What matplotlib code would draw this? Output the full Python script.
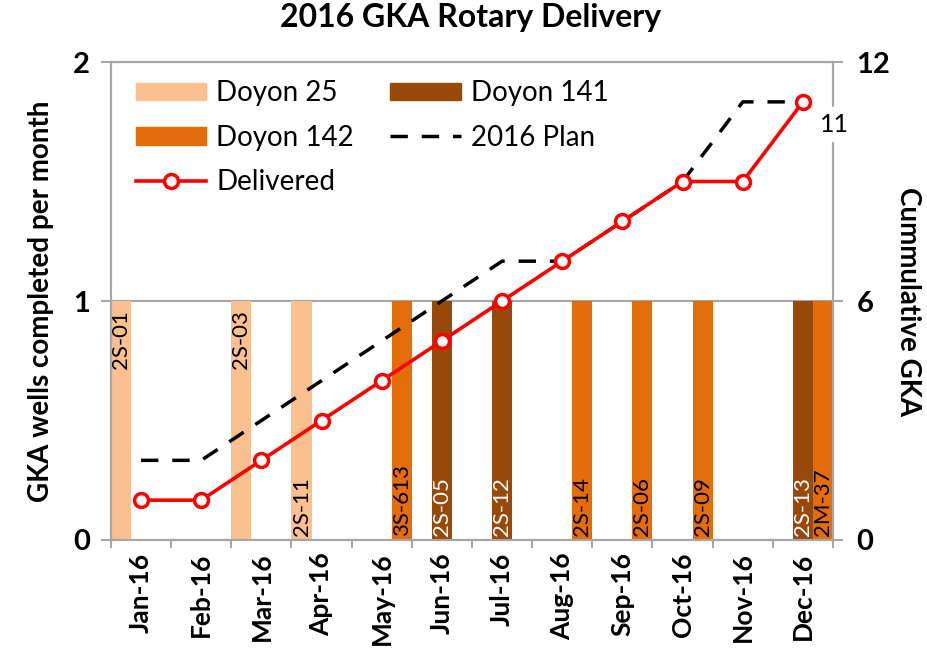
import numpy as np
import matplotlib.pyplot as plt
from matplotlib.lines import Line2D
from matplotlib.patches import Patch

plt.rcParams['font.family'] = ['Lato', 'DejaVu Sans']

months = ["Jan-16", "Feb-16", "Mar-16", "Apr-16", "May-16", "Jun-16",
          "Jul-16", "Aug-16", "Sep-16", "Oct-16", "Nov-16", "Dec-16"]

# wells per month, one list per rig (1 = well completed that month)
doyon25 = [1, 0, 1, 1, 0, 0, 0, 0, 0, 0, 0, 0]
doyon141 = [0, 0, 0, 0, 0, 1, 1, 0, 0, 0, 0, 1]
doyon142 = [0, 0, 0, 0, 1, 0, 0, 1, 1, 1, 0, 1]

wells25 = ["2S-01", "", "2S-03", "2S-11", "", "", "", "", "", "", "", ""]
wells141 = ["", "", "", "", "", "2S-05", "2S-12", "", "", "", "", "2S-13"]
wells142 = ["", "", "", "", "3S-613", "", "", "2S-14", "2S-06", "2S-09", "", "2M-37"]
labels_at_top = ["2S-01", "2S-03"]

delivered = [1, 1, 2, 3, 4, 5, 6, 7, 8, 9, 9, 11]
plan = [2, 2, 3, 4, 5, 6, 7, 7, 8, 9, 11, 11]

c25 = "#FAC090"
c141 = "#984807"
c142 = "#E46C0A"
grigio = "#A6A6A6"

fig = plt.figure(figsize=(9.27, 6.62), dpi=100)
ax = fig.add_axes([0.1197, 0.1843, 0.7789, 0.722])
ax2 = ax.twinx()

x = np.arange(len(months))
w = 1 / 3
series = [(doyon25, wells25, c25, -w, "black"),
          (doyon141, wells141, c141, 0, "white"),
          (doyon142, wells142, c142, w, "black")]

for vals, wells, col, off, tcol in series:
    ax.bar(x + off, vals, width=w, color=col, zorder=2)
    for i in range(len(months)):
        if wells[i] == "":
            continue
        if wells[i] in labels_at_top:
            ax.text(x[i] + off, vals[i] - 0.04, wells[i], rotation=90,
                    ha="center", va="top", fontsize=16, color=tcol, zorder=3)
        else:
            ax.text(x[i] + off, 0.015, wells[i], rotation=90,
                    ha="center", va="bottom", fontsize=16, color=tcol, zorder=3)

ax.set_xlim(-0.5, len(months) - 0.5)
ax.set_ylim(0, 2)
ax.set_yticks([0, 1, 2])
ax.set_xticks(np.arange(-0.5, len(months)), minor=True)
ax.set_xticks(x)
ax.set_xticklabels(months, rotation=90, fontsize=19, fontweight="bold")
ax.tick_params(axis="x", which="major", length=0, pad=9)
ax.tick_params(axis="x", which="minor", length=6, color=grigio, width=1.5)
ax.tick_params(axis="y", length=7, color=grigio, width=1.5, labelsize=21, pad=8)
for t in ax.get_yticklabels():
    t.set_fontweight("bold")
ax.grid(axis="y", color=grigio, linewidth=1.5, zorder=0)
ax.set_axisbelow(True)

ax2.plot(x, plan, color="black", linewidth=2.5, dashes=(5.0, 4.0), zorder=3)
ax2.plot(x, delivered, color="red", linewidth=2.6, marker="o", markersize=10,
         markerfacecolor="white", markeredgecolor="red", markeredgewidth=2.5,
         zorder=4)
ax2.annotate(str(delivered[-1]), (x[-1], delivered[-1]), xytext=(23, -16),
             textcoords="offset points", ha="center", va="center",
             fontsize=18, backgroundcolor="white", annotation_clip=False,
             zorder=5)
ax2.set_ylim(0, 12)
ax2.set_yticks([0, 6, 12])
ax2.tick_params(axis="y", length=7, color=grigio, width=1.5, labelsize=21, pad=10)
for t in ax2.get_yticklabels():
    t.set_fontweight("bold")

for a in (ax, ax2):
    for s in a.spines.values():
        s.set_color(grigio)
        s.set_linewidth(1.5)

ax.set_ylabel("GKA wells completed per month", fontsize=20, fontweight="bold",
              labelpad=14)
ax2.set_ylabel("Cummulative GKA", fontsize=20, fontweight="bold",
               rotation=270, labelpad=22)
fig.suptitle("2016 GKA Rotary Delivery", fontsize=23, fontweight="bold",
             x=0.508, y=0.995)

handles = [Patch(color=c25, label="Doyon 25"),
           Patch(color=c142, label="Doyon 142"),
           Line2D([], [], color="red", linewidth=2.6, marker="o", markersize=10,
                  markerfacecolor="white", markeredgewidth=2.5, label="Delivered"),
           Patch(color=c141, label="Doyon 141"),
           Line2D([], [], color="black", linewidth=2.5, dashes=(5.0, 4.0),
                  label="2016 Plan")]
ax2.legend(handles=handles, ncol=2, loc="upper left",
           bbox_to_anchor=(0.034, 0.962), frameon=False,
           fontsize=20, handlelength=2.55, handleheight=0.6, handletextpad=0.36,
           columnspacing=1.3, labelspacing=0.67, borderaxespad=0, borderpad=0)

fig.savefig("out.png", dpi=100)
